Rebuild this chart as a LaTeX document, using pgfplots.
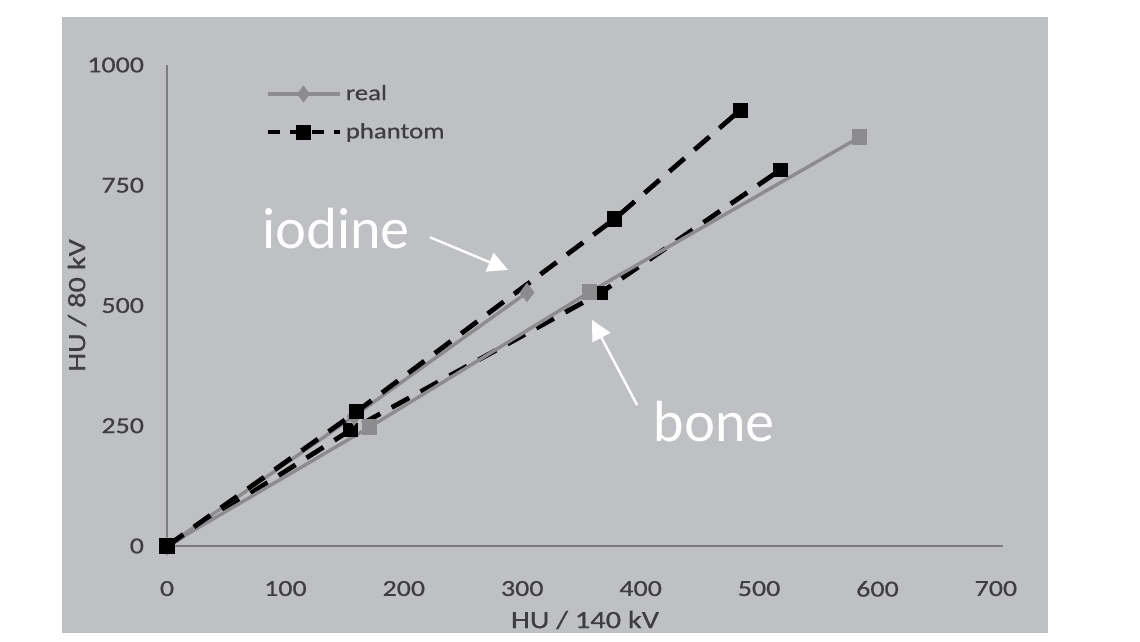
\documentclass[border=0pt]{standalone}
\usepackage{fontspec}
\setmainfont{Carlito}
\newfontfamily\tickfont[FakeStretch=1.22, FakeBold=0.6]{Carlito}
\newfontfamily\annofont{Lato}
\usepackage{pgfplots}
\pgfplotsset{compat=1.18}
\usetikzlibrary{arrows.meta}
\definecolor{panel}{RGB}{191,192,196}
\definecolor{axisgray}{RGB}{125,125,128}
\definecolor{realgray}{RGB}{140,140,143}
\definecolor{textgray}{RGB}{62,62,64}
\begin{document}
\begin{tikzpicture}
\fill[white] (0bp,0bp) rectangle (570bp,321bp);
\fill[panel] (31bp,4.5bp) rectangle (524bp,312.5bp);
\begin{axis}[
  at={(83.5bp,48bp)}, anchor=south west,
  scale only axis, width=418bp, height=240.5bp,
  xmin=0, xmax=706, ymin=0, ymax=1000,
  axis x line*=bottom, axis y line*=left,
  axis line style={axisgray, line width=1.2bp, -},
  xtick={0,100,...,700}, ytick={0,250,500,750,1000},
  major tick length=0pt,
  tick label style={font=\tickfont\fontsize{11.5}{13}\selectfont, text=textgray},
  /pgf/number format/assume math mode=true,
  /pgf/number format/1000 sep={},
  xticklabel style={yshift=-14bp},
  yticklabel style={xshift=-8bp},
  xlabel={HU / 140 kV}, ylabel={HU / 80 kV},
  label style={font=\tickfont\fontsize{12.5}{14}\selectfont, text=textgray},
  xlabel style={at={(axis description cs:0.5,0)}, anchor=center, yshift=-37bp},
  ylabel style={at={(axis description cs:0,0.5)}, anchor=center, rotate=0, yshift=45bp},
  clip=false,
  legend style={at={(axis description cs:0.117,0.900)}, anchor=west, draw=none, fill=none,
    font=\tickfont\fontsize{11}{12}\selectfont, text=textgray, row sep=6bp, inner sep=0pt},
  legend cell align=left,
  legend image code/.code={
    \draw[#1] (0bp,0bp) -- (36bp,0bp);
    \draw[#1, solid] plot coordinates {(18bp,0bp)};
  },
]
\addlegendimage{realgray, line width=1.6bp, mark=diamond*, mark size=3bp, mark options={solid, fill=realgray}}
\addlegendentry{real}
\addlegendimage{black, line width=2.3bp, dash pattern=on 6bp off 5bp, mark=square*, mark size=2.6bp, mark options={solid, fill=black}}
\addlegendentry{phantom}
% phantom bone
\addplot[forget plot, black, line width=2.4bp, dash pattern=on 10bp off 6.5bp, mark=square*, mark size=2.4bp, mark options={solid, fill=black}]
  coordinates {(0,0) (155,241) (366,526) (518,782)};
% real bone
\addplot[forget plot, realgray, line width=1.7bp, mark=square*, mark size=3bp, mark options={solid, fill=realgray}]
  coordinates {(0,0) (171,247) (357,528) (585,850)};
% real iodine
\addplot[forget plot, realgray, line width=1.7bp, mark=diamond*, mark size=3.5bp, mark options={solid, fill=realgray}]
  coordinates {(0,0) (158,270) (304,527)};
% phantom iodine
\addplot[forget plot, black, line width=2.4bp, dash pattern=on 10bp off 6.5bp, mark=square*, mark size=2.6bp, mark options={solid, fill=black}]
  coordinates {(0,0) (160,279) (378,680) (484,906)};
% annotations
\node[text=white, font=\annofont\fontsize{27.5}{30}\selectfont] at (axis cs:142.7,661) {iodine};
\draw[white, line width=1.2bp, -{Triangle[length=10bp,width=10bp]}] (axis cs:222,642) -- (axis cs:288,574);
\node[text=white, font=\annofont\fontsize{27.5}{30}\selectfont] at (axis cs:462,258) {bone};
\draw[white, line width=1.2bp, -{Triangle[length=10bp,width=10bp]}] (axis cs:397,293) -- (axis cs:359,470);
\end{axis}
\end{tikzpicture}
\end{document}
